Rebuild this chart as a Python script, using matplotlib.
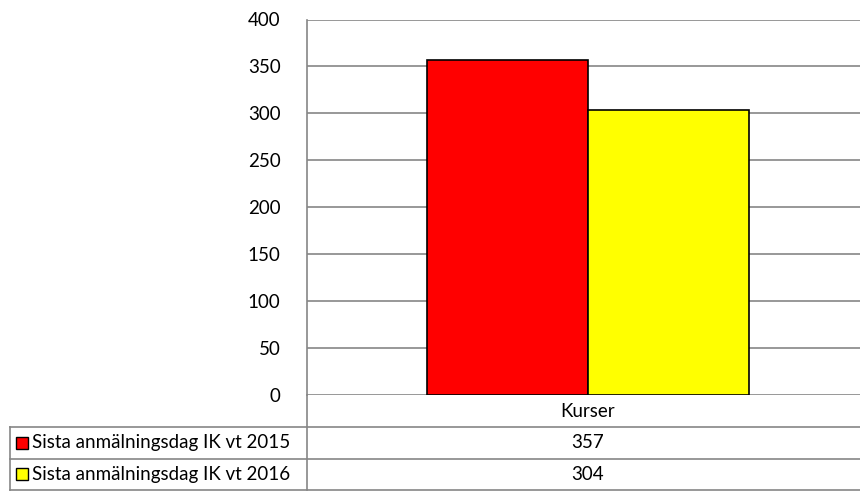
import numpy as np
import matplotlib.pyplot as plt
from matplotlib.patches import Rectangle
from matplotlib.lines import Line2D

plt.rcParams['font.family'] = ['Lato', 'DejaVu Sans']

# Data
categories = ['Kurser']
series_names = ['Sista anmälningsdag IK vt 2015', 'Sista anmälningsdag IK vt 2016']
series_values = [[357], [304]]
series_colors = ['#ff0000', '#ffff00']
yticks = [0, 50, 100, 150, 200, 250, 300, 350, 400]

W, H = 860, 495
fig = plt.figure(figsize=(W / 100, H / 100), dpi=100)
fs = 13.5

# plot area in pixel coords (right edge runs a bit past the image)
x0, x1 = 307, 869
ytop, ybot = 19.5, 394.5
ax = fig.add_axes([x0 / W, 1 - ybot / H, (x1 - x0) / W, (ybot - ytop) / H])

grid_c = '#868686'
x = np.arange(len(categories))
width = 0.286
for i, (vals, c) in enumerate(zip(series_values, series_colors)):
    ax.bar(x + (i - 0.5) * width, vals, width, color=c, edgecolor='black',
           linewidth=1.2, zorder=3)

ax.set_xlim(-0.5, 0.5)
ax.set_ylim(0, 400)
ax.set_yticks(yticks)
ax.set_yticklabels([str(t) for t in yticks], fontsize=fs)
ax.yaxis.grid(True, color=grid_c, linewidth=1.2, zorder=0)
ax.set_xticks([])
ax.tick_params(axis='y', length=0, pad=19)
for s in ['top', 'right', 'bottom']:
    ax.spines[s].set_visible(False)
ax.spines['left'].set_color(grid_c)
ax.spines['left'].set_linewidth(1.2)

# Data table below chart (pixel coords -> figure fraction)
def fx(px):
    return px / W

def fy(py):
    return 1 - py / H

row_y = [394.5, 427, 458.5, 490]
tleft = 10
lines = [
    ((x0, x0), (ybot, row_y[3])),
    ((tleft, tleft), (row_y[1], row_y[3])),
    ((tleft, W), (row_y[1], row_y[1])),
    ((tleft, W), (row_y[2], row_y[2])),
    ((tleft, W), (row_y[3], row_y[3])),
]
for (xs, ys) in lines:
    fig.add_artist(Line2D([fx(v) for v in xs], [fy(v) for v in ys],
                          color=grid_c, linewidth=1.2))

cx = (x0 + x1) / 2
fig.text(fx(cx), fy((row_y[0] + row_y[1]) / 2 + 1), categories[0],
         ha='center', va='center', fontsize=fs)
for i, (name, vals, c) in enumerate(zip(series_names, series_values, series_colors)):
    yc = (row_y[i + 1] + row_y[i + 2]) / 2
    fig.add_artist(Rectangle((fx(16), fy(yc + 6)), 12 / W, 12 / H,
                             facecolor=c, edgecolor='black', linewidth=1.0,
                             transform=fig.transFigure))
    fig.text(fx(32), fy(yc), name, ha='left', va='center', fontsize=fs)
    fig.text(fx(cx), fy(yc), str(vals[0]), ha='center', va='center', fontsize=fs)

fig.savefig('out.png', dpi=100)
